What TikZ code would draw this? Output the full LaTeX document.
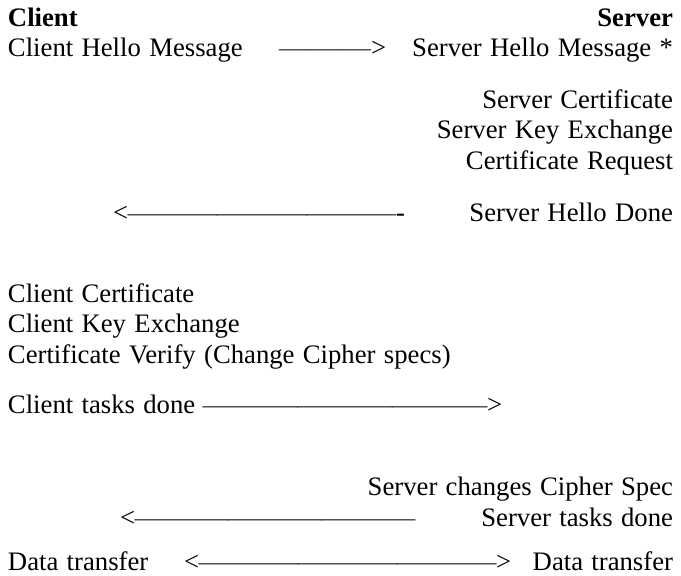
\documentclass[tikz,border=0pt]{standalone}
\usepackage{fontspec}
\setmainfont[WordSpace={1.25,0,0}]{Liberation Serif}
\usepackage{graphicx}
\usepackage{xcolor}
\newcommand\dashrun[1]{\textcolor{black!75}{\resizebox{#1}{\height}{———}}}
\begin{document}
\begin{tikzpicture}[x=1pt,y=-1pt,
  txt/.style={inner sep=0pt,outer sep=0pt,font=\fontsize{26.7}{30}\selectfont},
  lt/.style={txt,anchor=base west},
  rt/.style={txt,anchor=base east},
  hd/.style={font=\fontsize{26.7}{30}\selectfont\bfseries}]
\useasboundingbox (0,0) rectangle (681,576);
\node[lt,hd] (client) at (8,26) {Client};
\node[rt,hd] (server) at (673,26) {Server};
\node[lt] (chello) at (8,56) {Client Hello Message};
\node[lt] (a1) at (279,56) {\dashrun{92pt}>};
\node[rt] (shello) at (673,56) {Server Hello Message *};
\node[rt] (scert) at (673,108) {Server Certificate};
\node[rt] (skey) at (673,138.5) {Server Key Exchange};
\node[rt] (creq) at (673,169) {Certificate Request};
\node[lt] (a2) at (113,221) {<\dashrun{268pt}-};
\node[rt] (sdone) at (673,221) {Server Hello Done};
\node[lt] (ccert) at (8,302) {Client Certificate};
\node[lt] (ckey) at (8,332) {Client Key Exchange};
\node[lt] (cver) at (8,363) {Certificate Verify (Change Cipher specs)};
\node[lt] (cdone) at (8,413) {Client tasks done};
\node[lt] (a3) at (203,413) {\dashrun{284pt}>};
\node[rt] (schg) at (673,495) {Server changes Cipher Spec};
\node[lt] (a4) at (120,526) {<\dashrun{280pt}};
\node[rt] (stasks) at (673,526) {Server tasks done};
\node[lt] (dl) at (8,570) {Data transfer};
\node[lt] (a5) at (184,570) {<\dashrun{297pt}>};
\node[rt] (dr) at (673,570) {Data transfer};
\end{tikzpicture}
\end{document}
